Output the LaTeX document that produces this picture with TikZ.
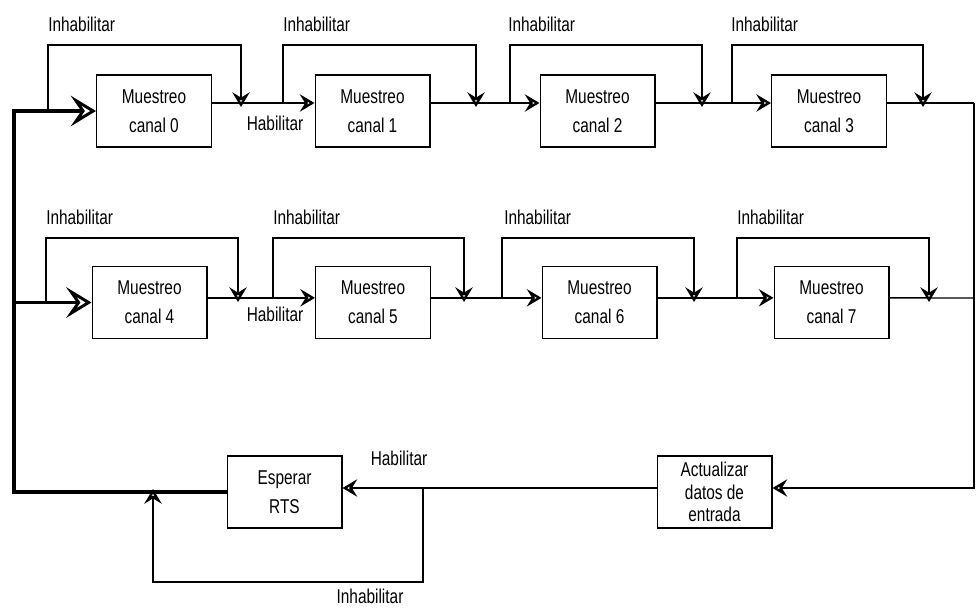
\documentclass[tikz,border=0pt]{standalone}
\usepackage{fontspec}
\setmainfont[FakeStretch=0.77]{Liberation Sans}
\usetikzlibrary{arrows.meta,positioning}

\tikzset{
  stage/.style={draw, line width=1pt, minimum width=86pt, minimum height=54pt,
    align=center, inner sep=2pt, font=\fontsize{15}{22}\selectfont},
  wire/.style={line width=1pt},
  link/.style={line width=1pt, -{Stealth[open,length=11pt,width=13pt,inset=4pt,line width=2.4pt]}},
  bus/.style={line width=2.6pt},
  busarrow/.style={line width=2.6pt, -{Stealth[open,length=19pt,width=23pt,inset=8pt,line width=2.2pt]}},
  tag/.style={inner sep=0pt, font=\fontsize{15}{18}\selectfont},
}

\begin{document}
\begin{tikzpicture}[x=0.75pt, y=-0.75pt]

\useasboundingbox (0,0) rectangle (980,608);

% levels for the bypass loops
\coordinate (top1) at (0,45);
\coordinate (top2) at (0,238);

% ===========================
% Row 1: channels 0 to 3
% ===========================
\node[stage] (m0) at (154,111)   {Muestreo\\canal 0};
\node[stage] (m1) at (372.5,111) {Muestreo\\canal 1};
\node[stage] (m2) at (597.5,111) {Muestreo\\canal 2};
\node[stage] (m3) at (829,111)   {Muestreo\\canal 3};

% forward links
\draw[link] ([yshift=6pt]m0.east) -- ([yshift=6pt]m1.west);
\draw[link] ([yshift=6pt]m1.east) -- ([yshift=6pt]m2.west);
\draw[link] ([yshift=6pt]m2.east) -- ([yshift=6pt]m3.west);

% bypass start/end points
\coordinate (s0) at (48,111);
\coordinate (s1) at (283,103);
\coordinate (s2) at (510,103);
\coordinate (s3) at (732,103);
\coordinate (e0) at (241,107);
\coordinate (e1) at (476,107);
\coordinate (e2) at (702,107);
\coordinate (e3) at (923,107);

\draw[link] (s0) -- (s0 |- top1) -| (e0);
\draw[link] (s1) -- (s1 |- top1) -| (e1);
\draw[link] (s2) -- (s2 |- top1) -| (e2);
\draw[link] (s3) -- (s3 |- top1) -| (e3);

\node[tag, anchor=base west] (i0) at (48,31)  {Inhabilitar};
\node[tag, anchor=base west] (i1) at (283,31) {Inhabilitar};
\node[tag, anchor=base west] (i2) at (508,31) {Inhabilitar};
\node[tag, anchor=base west] (i3) at (731,31) {Inhabilitar};
\node[tag, anchor=base] (h0) at (275,130) {Habilitar};

% ===========================
% Row 2: channels 4 to 7
% ===========================
\node[stage] (m4) at (149.5,302.5) {Muestreo\\canal 4};
\node[stage] (m5) at (373,302.5)   {Muestreo\\canal 5};
\node[stage] (m6) at (599.5,302.5) {Muestreo\\canal 6};
\node[stage] (m7) at (831.5,302.5) {Muestreo\\canal 7};

\draw[link] ([yshift=3.5pt]m4.east) -- ([yshift=3.5pt]m5.west);
\draw[link] ([yshift=3.5pt]m5.east) -- ([yshift=3.5pt]m6.west);
\draw[link] ([yshift=3.5pt]m6.east) -- ([yshift=3.5pt]m7.west);

\coordinate (s4) at (46,302.5);
\coordinate (s5) at (273,298);
\coordinate (s6) at (502,298);
\coordinate (s7) at (737,298);
\coordinate (e4) at (238,302);
\coordinate (e5) at (464,302);
\coordinate (e6) at (694,302);
\coordinate (e7) at (929,302);

\draw[link] (s4) -- (s4 |- top2) -| (e4);
\draw[link] (s5) -- (s5 |- top2) -| (e5);
\draw[link] (s6) -- (s6 |- top2) -| (e6);
\draw[link] (s7) -- (s7 |- top2) -| (e7);

\node[tag, anchor=base west] (i4) at (46,224)  {Inhabilitar};
\node[tag, anchor=base west] (i5) at (273,224) {Inhabilitar};
\node[tag, anchor=base west] (i6) at (504,224) {Inhabilitar};
\node[tag, anchor=base west] (i7) at (737,224) {Inhabilitar};
\node[tag, anchor=base] (h1) at (275,321) {Habilitar};

% ===========================
% Bottom: update and wait
% ===========================
\node[stage] (esp) at (284.5,492) {Esperar\\RTS};
\node[stage, font=\fontsize{15}{17}\selectfont] (act) at (714.5,492) {Actualizar\\datos de\\entrada};

% right-hand return line
\coordinate (r0) at (974,103);
\coordinate (r1) at (974,298);
\draw[wire] ([yshift=6pt]m3.east) -- (r0);
\draw[wire] ([yshift=3.5pt]m7.east) -- (r1);
\draw[link] (r0) |- ([yshift=3pt]act.east);

\draw[link] ([yshift=3pt]act.west) -- ([yshift=3pt]esp.east);

% wait bypass
\coordinate (s8) at (423,488);
\coordinate (e8) at (153,489);
\coordinate (low) at (0,582);
\draw[link] (s8) -- (s8 |- low) -| (e8);

\node[tag, anchor=base] (h2) at (399,465) {Habilitar};
\node[tag, anchor=base] (i8) at (370,603) {Inhabilitar};

% thick return bus
\coordinate (tl) at (14,111);
\coordinate (ml) at (14,302.5);
\draw[busarrow] (esp.west) -| (tl) -- (m0.west);
\draw[busarrow] (ml) -- (m4.west);

\end{tikzpicture}
\end{document}
